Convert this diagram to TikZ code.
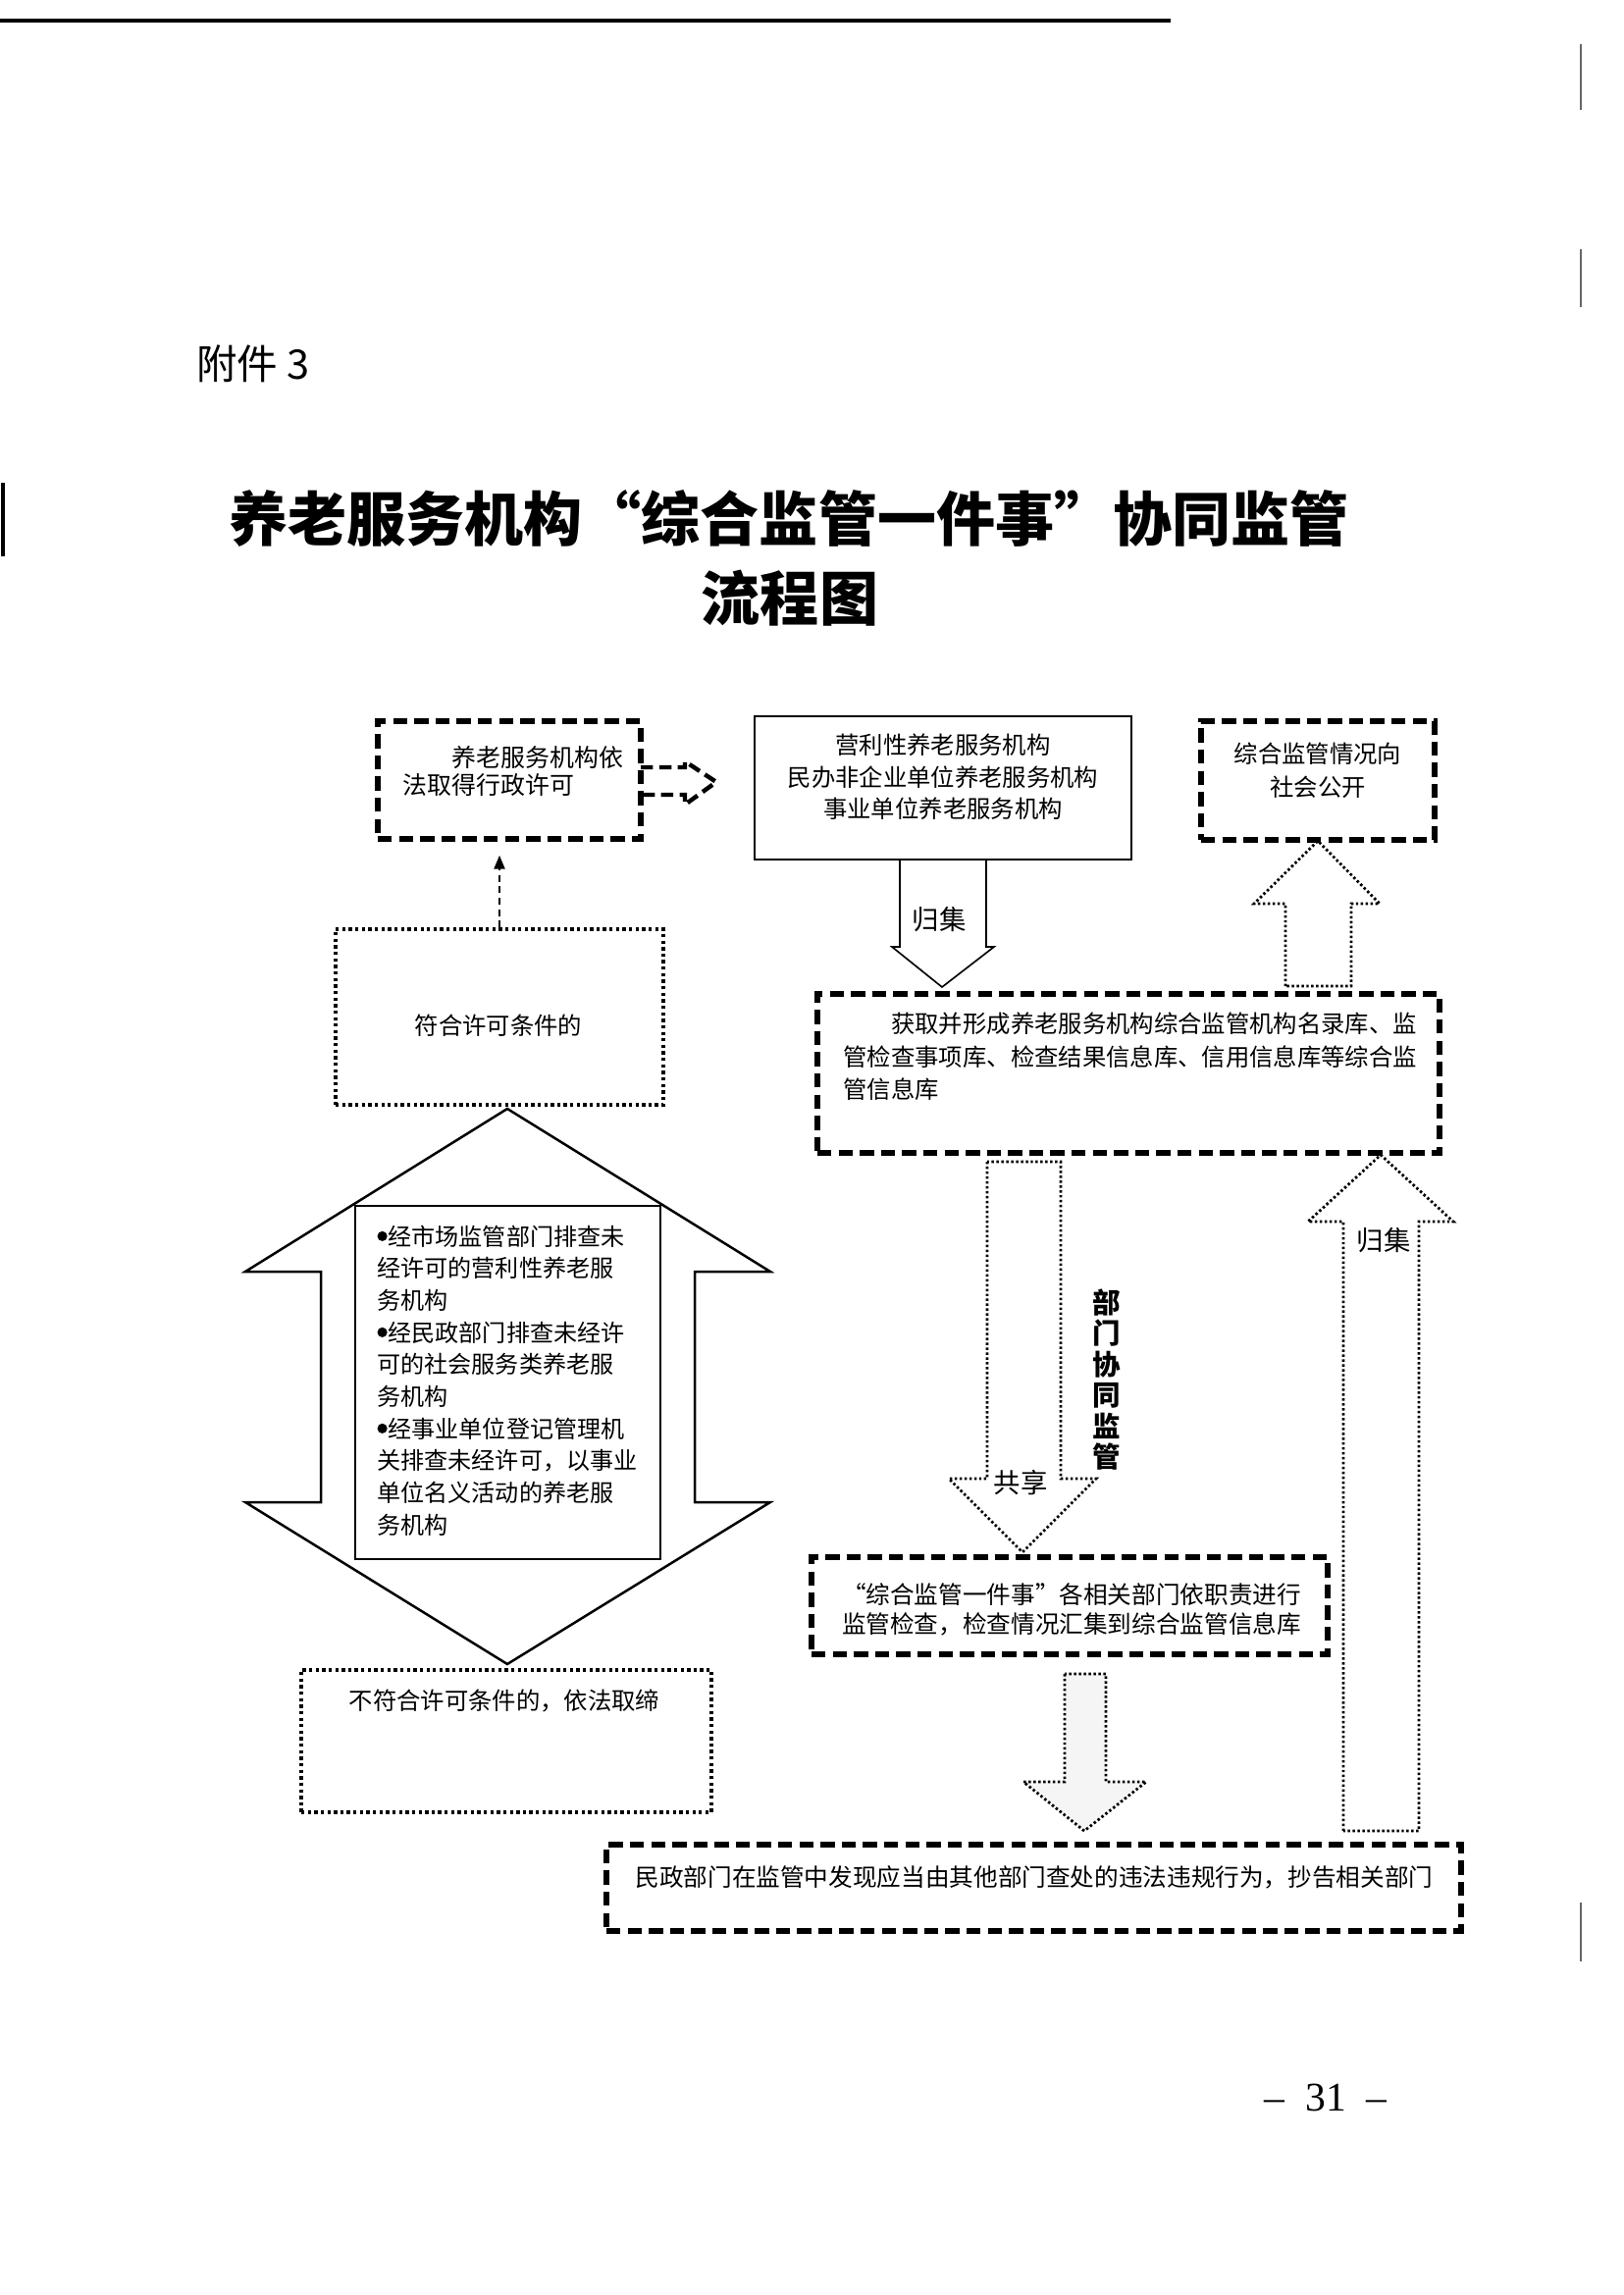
\documentclass[tikz,border=0pt]{standalone}
\usepackage{fontspec}
\setmainfont{Noto Sans CJK SC}
\newfontfamily\serifnum{Liberation Serif}
\usetikzlibrary{arrows.meta,fit}
\newcommand{\bul}{\raisebox{0.18em}{\tikz\fill (0,0) circle (0.21em);}\hspace{0.04em}}
\begin{document}
\begin{tikzpicture}[x=0.127mm, y=-0.127mm,
  thickdash/.style={draw, line width=1.9pt, dash pattern=on 5.2pt off 2.6pt},
  dotbox/.style={draw, line width=1.2pt, dash pattern=on 1.2pt off 1.2pt},
  dotarrow/.style={draw, line width=1pt, dash pattern=on 0.9pt off 0.9pt},
  solidbox/.style={draw, line width=0.6pt},
  boxfit/.style={inner sep=0pt},
  txt/.style={inner sep=0pt, font=\fontsize{8.8}{11.8}\selectfont},
  lbl/.style={inner sep=0pt, font=\fontsize{9.9}{12}\selectfont}]
% page
\fill[white] (0,0) rectangle (1654,2339);
\useasboundingbox (0,0) rectangle (1654,2339);
% scan marks
\draw[line width=1.3pt] (0,21) -- (1193,21);
\draw[line width=0.8pt, black!60] (1611,45) -- (1611,112);
\draw[line width=0.8pt, black!60] (1611,254) -- (1611,313);
\draw[line width=0.8pt, black!60] (1611,1939) -- (1611,1999);
\draw[line width=1.5pt] (3,492) -- (3,567);
% heading
\node[inner sep=0pt, font=\fontsize{15}{18}\selectfont] (fj) at (258,371) {附件 3};
\node[inner sep=0pt, font=\fontsize{21.7}{26}\selectfont\bfseries] (title1) at (804,528) {养老服务机构“综合监管一件事”协同监管};
\node[inner sep=0pt, font=\fontsize{21.7}{26}\selectfont\bfseries] (title2) at (805,610) {流程图};
% box A
\node[thickdash, boxfit, fit={(385,735) (653,855)}] (A) {};
\node[txt, font=\fontsize{9}{10.3}\selectfont, anchor=west, align=left] (At) at (410,786) {\hspace*{6.35mm}养老服务机构依\\法取得行政许可};
% dashed arrow A -> B
\draw[thickdash, line width=1.6pt, dash pattern=on 4.5pt off 2.3pt] (653,782) -- (698,782) -- (698,776) -- (730,797) -- (698,820) -- (698,810) -- (653,810);
% box B
\node[solidbox, boxfit, fit={(769,730) (1153,876)}] (B) {};
\node[txt, font=\fontsize{8.8}{11.7}\selectfont, align=center] (Bt) at (961,792) {营利性养老服务机构\\民办非企业单位养老服务机构\\事业单位养老服务机构};
% box D
\node[thickdash, boxfit, fit={(1224,735) (1462,856)}] (D) {};
\node[txt, font=\fontsize{8.8}{12.2}\selectfont, align=center] (Dt) at (1343,785) {综合监管情况向\\社会公开};
% arrow B -> C (solid hollow)
\draw[solidbox] (917,876) -- (917,965) -- (909,965) -- (960,1006) -- (1013,965) -- (1005,965) -- (1005,876);
\node[lbl] (gj1) at (957,937) {归集};
% box C
\node[thickdash, boxfit, fit={(833,1013) (1467,1175)}] (C) {};
\node[txt, font=\fontsize{8.8}{12.1}\selectfont, anchor=west, align=left] (Ct) at (859,1077) {\hspace*{2em}获取并形成养老服务机构综合监管机构名录库、监\\管检查事项库、检查结果信息库、信用信息库等综合监\\管信息库};
% arrow C -> D (dotted hollow up)
\draw[dotarrow] (1310,1005) -- (1310,921) -- (1278,921) -- (1343,857) -- (1406,921) -- (1377,921) -- (1377,1005) -- cycle;
% box E
\node[dotbox, boxfit, fit={(342,947) (676,1126)}] (E) {};
\node[txt] (Et) at (508,1045) {符合许可条件的};
\draw[line width=0.7pt, dash pattern=on 2.6pt off 1.6pt, -{Triangle[length=5pt,width=4pt]}, shorten >=1.8mm] (E.north) -- (E.north |- A.south);
% double hollow arrow
\draw[line width=0.9pt, line join=miter] (517,1130) -- (785,1296) -- (708,1296) -- (708,1531) -- (785,1531) -- (517,1696) -- (250,1531) -- (327,1531) -- (327,1296) -- (250,1296) -- cycle;
\node[solidbox, boxfit, fit={(362,1229) (673,1589)}, fill=white] (K) {};
\node[txt, font=\fontsize{8.7}{11.8}\selectfont, anchor=west, align=left] (Kt) at (384,1407) {\bul 经市场监管部门排查未\\经许可的营利性养老服\\务机构\\\bul 经民政部门排查未经许\\可的社会服务类养老服\\务机构\\\bul 经事业单位登记管理机\\关排查未经许可，以事业\\单位名义活动的养老服\\务机构};
% box F
\node[dotbox, boxfit, fit={(307,1702) (725,1847)}] (F) {};
\node[txt] (Ft) at (514,1733) {不符合许可条件的，依法取缔};
% arrow C -> G (dotted hollow down)
\draw[dotarrow] (1006,1184) -- (1006,1507) -- (967,1507) -- (1042,1582) -- (1117,1507) -- (1081,1507) -- (1081,1184) -- cycle;
\node[lbl] (gx) at (1040,1511) {共享};
\node[inner sep=0pt, font=\fontsize{10.3}{11.4}\selectfont\bfseries, align=center] (bm) at (1128,1406) {部\\门\\协\\同\\监\\管};
% up arrow H
\draw[dotarrow] (1369,1866) -- (1369,1245) -- (1333,1245) -- (1407,1177) -- (1481,1245) -- (1446,1245) -- (1446,1866) -- cycle;
\node[lbl] (gj2) at (1410,1264) {归集};
% box G
\node[thickdash, boxfit, fit={(827,1587) (1353,1686)}] (G) {};
\node[txt, font=\fontsize{8.9}{10.8}\selectfont, align=center] (Gt) at (1092,1640) {“综合监管一件事”各相关部门依职责进行\\监管检查，检查情况汇集到综合监管信息库};
% arrow G -> I
\draw[dotarrow, fill=black!4] (1085,1706) -- (1085,1816) -- (1043,1816) -- (1105,1866) -- (1168,1816) -- (1127,1816) -- (1127,1706) -- cycle;
% box I
\node[thickdash, boxfit, fit={(618,1880) (1489,1968)}] (I) {};
\node[txt, font=\fontsize{8.9}{11}\selectfont, anchor=west] (It) at (647,1913) {民政部门在监管中发现应当由其他部门查处的违法违规行为，抄告相关部门};
% page number
\node[inner sep=0pt, font=\serifnum\fontsize{15}{18}\selectfont] (pg) at (1351,2138) {–\ \ 31\ \ –};
\end{tikzpicture}
\end{document}
